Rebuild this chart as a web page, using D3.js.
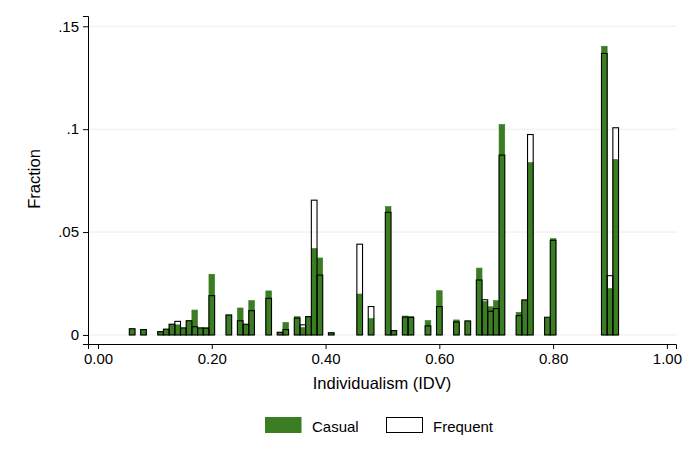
<!DOCTYPE html>
<html>
<head>
<meta charset="utf-8">
<script src="https://cdn.jsdelivr.net/npm/d3@7"></script>
<style>
  body { margin: 0; background: #fff; }
  text { font-family: "Liberation Sans", Arial, Helvetica, sans-serif; fill: #000; }
</style>
</head>
<body>
<div id="chart"></div>
<script>
// bin centres (IDV / 100), bin width 0.01
const bins = [0.06, 0.08, 0.11, 0.12, 0.13, 0.14, 0.15, 0.16, 0.17, 0.18, 0.19, 0.20,
    0.23, 0.25, 0.26, 0.27, 0.30, 0.32, 0.33, 0.35, 0.36, 0.37, 0.38, 0.39, 0.41,
    0.46, 0.48, 0.51, 0.52, 0.54, 0.55, 0.58, 0.60, 0.63, 0.65, 0.67, 0.68, 0.69,
    0.70, 0.71, 0.74, 0.75, 0.76, 0.79, 0.80, 0.89, 0.90, 0.91];
const casual = [0.0030, 0.0026, 0.0016, 0.0028, 0.0052, 0.0049, 0.0034, 0.0069, 0.0121, 0.0034, 0.0035, 0.0295,
    0.0097, 0.0131, 0.0052, 0.0167, 0.0214, 0.0013, 0.0061, 0.0089, 0.0036, 0.0089, 0.0420, 0.0374, 0.0013,
    0.0199, 0.0080, 0.0624, 0.0021, 0.0092, 0.0090, 0.0070, 0.0215, 0.0073, 0.0068, 0.0325, 0.0163, 0.0137,
    0.0167, 0.1023, 0.0110, 0.0170, 0.0838, 0.0083, 0.0468, 0.1403, 0.0226, 0.0853];
const frequent = [0.0030, 0.0026, 0.0016, 0.0028, 0.0052, 0.0066, 0.0034, 0.0069, 0.0040, 0.0034, 0.0033, 0.0191,
    0.0097, 0.0069, 0.0052, 0.0118, 0.0178, 0.0013, 0.0026, 0.0082, 0.0049, 0.0089, 0.0655, 0.0291, 0.0010,
    0.0441, 0.0138, 0.0596, 0.0021, 0.0087, 0.0085, 0.0044, 0.0138, 0.0063, 0.0068, 0.0267, 0.0171, 0.0115,
    0.0128, 0.0874, 0.0094, 0.0170, 0.0974, 0.0086, 0.0460, 0.1368, 0.0288, 0.1007];
const xTicks = [0, 0.2, 0.4, 0.6, 0.8, 1.0];
const yTicks = [0, 0.05, 0.1, 0.15];
const yTickLabels = ["0", ".05", ".1", ".15"];
const binWidth = 0.01;

const width = 692, height = 461;
const green = "#3b7d23";

const svg = d3.select("#chart").append("svg")
    .attr("width", width)
    .attr("height", height);

const x = d3.scaleLinear().domain([-0.0176, 1.016]).range([88, 676]);
const y = d3.scaleLinear().domain([-0.0044, 0.155]).range([344, 16]);

// gridlines
svg.append("g")
    .selectAll("line")
    .data(yTicks)
    .enter()
    .append("line")
    .attr("x1", 88)
    .attr("x2", 677)
    .attr("y1", d => y(d))
    .attr("y2", d => y(d))
    .attr("stroke", "#ececec")
    .attr("stroke-width", 1);

// casual bars (green)
svg.append("g")
    .selectAll("rect")
    .data(bins)
    .enter()
    .append("rect")
    .attr("x", d => x(d - binWidth / 2))
    .attr("width", d => x(d + binWidth / 2) - x(d - binWidth / 2))
    .attr("y", (d, i) => y(casual[i]))
    .attr("height", (d, i) => y(0) - y(casual[i]))
    .attr("fill", green)
    .attr("stroke", green)
    .attr("stroke-width", 0.6);

// frequent bars (outline only)
svg.append("g")
    .selectAll("rect")
    .data(bins)
    .enter()
    .append("rect")
    .attr("x", d => x(d - binWidth / 2))
    .attr("width", d => x(d + binWidth / 2) - x(d - binWidth / 2))
    .attr("y", (d, i) => y(frequent[i]))
    .attr("height", (d, i) => y(0) - y(frequent[i]))
    .attr("fill", "none")
    .attr("stroke", "#000")
    .attr("stroke-width", 1.1);

// axes
const xAxis = d3.axisBottom(x).tickValues(xTicks).tickFormat(d3.format(".2f")).tickSize(5).tickPadding(4);
const yAxis = d3.axisLeft(y).tickValues(yTicks).tickFormat((d, i) => yTickLabels[i]).tickSize(5).tickPadding(4);

const gx = svg.append("g")
    .attr("transform", "translate(0,344)")
    .call(xAxis);
const gy = svg.append("g")
    .attr("transform", "translate(88,0)")
    .call(yAxis);

[gx, gy].forEach(g => {
    g.select(".domain").attr("stroke", "#000").attr("stroke-width", 1);
    g.selectAll(".tick line").attr("stroke", "#000");
    g.selectAll(".tick text")
        .style("font-size", "15px")
        .style("font-family", "Liberation Sans, Arial, sans-serif")
        .attr("fill", "#000");
});

// axis titles
svg.append("text")
    .attr("x", 382)
    .attr("y", 389)
    .attr("text-anchor", "middle")
    .style("font-size", "16.5px")
    .text("Individualism (IDV)");

svg.append("text")
    .attr("transform", "rotate(-90)")
    .attr("x", -179)
    .attr("y", 40)
    .attr("text-anchor", "middle")
    .style("font-size", "16.5px")
    .text("Fraction");

// legend
const legend = svg.append("g");
legend.append("rect")
    .attr("x", 265).attr("y", 417)
    .attr("width", 36.5).attr("height", 16)
    .attr("fill", green);
legend.append("text")
    .attr("x", 312).attr("y", 431.5)
    .style("font-size", "15px")
    .text("Casual");
legend.append("rect")
    .attr("x", 386.5).attr("y", 417.5)
    .attr("width", 36).attr("height", 15)
    .attr("fill", "#fff")
    .attr("stroke", "#000")
    .attr("stroke-width", 1);
legend.append("text")
    .attr("x", 433).attr("y", 431.5)
    .style("font-size", "15px")
    .text("Frequent");
</script>
</body>
</html>
